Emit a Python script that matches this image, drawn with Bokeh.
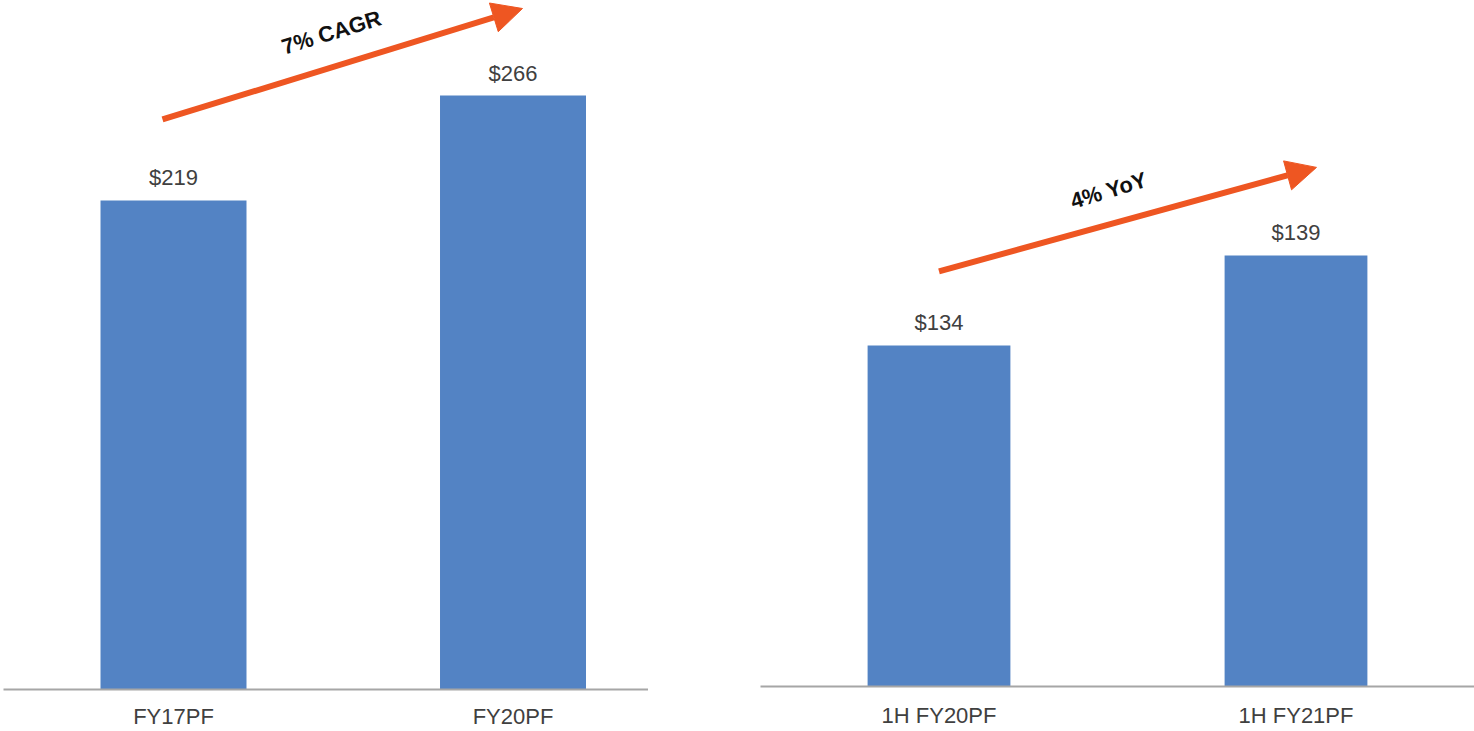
import math
from bokeh.plotting import figure
from bokeh.layouts import row
from bokeh.core.properties import value
from bokeh.models import (Range1d, FixedTicker, ColumnDataSource, LabelSet,
                          Arrow, NormalHead, Label)
from bokeh.embed import file_html
from bokeh.resources import INLINE

# ---------------- data ----------------
left_categories = ["FY17PF", "FY20PF"]
left_values = [219, 266]
left_labels = ["$219", "$266"]
left_growth = "7% CAGR"

right_categories = ["1H FY20PF", "1H FY21PF"]
right_values = [134, 139]
right_labels = ["$134", "$139"]
right_growth = "4% YoY"

# ---------------- style ----------------
BAR = "#5383C4"
ORANGE = "#EE5622"
AXIS = "#A6A6A6"
TXT = "#404040"
FONT = "Liberation Sans"


def make_panel(cats, vals, labels, growth, *, frame_w, frame_h, x_start, x_end,
               y_start, y_end, bar_w, border_left, standoff, arrow_px, text_px,
               text_angle_deg):
    p = figure(frame_width=frame_w, frame_height=frame_h,
               x_range=Range1d(x_start, x_end), y_range=Range1d(y_start, y_end),
               output_backend="svg", toolbar_location=None, y_axis_location=None,
               min_border_left=border_left, min_border_right=0,
               min_border_top=0, min_border_bottom=0)
    p.background_fill_color = "white"
    p.border_fill_color = "white"
    p.outline_line_color = None
    p.grid.visible = False

    kx = frame_w / (x_end - x_start)
    ky = frame_h / (y_end - y_start)
    xs = list(range(len(cats)))
    src = ColumnDataSource(dict(x=xs, top=vals, label=labels))
    p.vbar(x="x", top="top", bottom=y_start, width=bar_w, source=src,
           fill_color=BAR, line_color=None)
    p.add_layout(LabelSet(x="x", y="top", text="label", source=src, y_offset=15,
                          text_align="center", text_baseline="alphabetic",
                          text_font_size=value("22px"), text_color=TXT,
                          text_font=value(FONT)))

    (sdx, sdy), (edx, edy) = arrow_px
    x0 = xs[0] + sdx / kx
    y0 = vals[0] + sdy / ky
    x1 = xs[-1] + edx / kx
    y1 = vals[-1] + edy / ky
    p.add_layout(Arrow(x_start=x0, y_start=y0, x_end=x1, y_end=y1,
                       line_color=ORANGE, line_width=6,
                       end=NormalHead(size=30, fill_color=ORANGE,
                                      line_color=ORANGE, line_width=1)))
    tx = (x0 + x1) / 2 + text_px[0] / kx
    ty = (y0 + y1) / 2 + text_px[1] / ky
    p.add_layout(Label(x=tx, y=ty, text=growth,
                       angle=math.radians(text_angle_deg),
                       text_align="center", text_baseline="middle",
                       text_font_style="bold", text_font_size="22px",
                       text_color="#111111", text_font=FONT))

    ax = p.xaxis[0]
    ax.ticker = FixedTicker(ticks=xs)
    ax.major_label_overrides = {i: c for i, c in zip(xs, cats)}
    ax.major_tick_line_color = None
    ax.minor_tick_line_color = None
    ax.major_tick_out = 0
    ax.major_tick_in = 0
    ax.axis_line_color = AXIS
    ax.axis_line_width = 2
    ax.major_label_standoff = standoff
    ax.major_label_text_font_size = "22px"
    ax.major_label_text_color = TXT
    ax.major_label_text_font = FONT
    return p


left = make_panel(left_categories, left_values, left_labels, left_growth,
                  frame_w=645, frame_h=689, x_start=-0.50075, x_end=1.3991,
                  y_start=0, y_end=308.55, bar_w=0.43, border_left=3, standoff=14,
                  arrow_px=((-11, 81), (9.5, 87)), text_px=(-11, 31.5),
                  text_angle_deg=17)

right = make_panel(right_categories, right_values, right_labels, right_growth,
                   frame_w=714, frame_h=686, x_start=-0.5, x_end=1.5,
                   y_start=115.05, y_end=153.16, bar_w=0.40, border_left=112,
                   standoff=16, arrow_px=((0, 74), (20.5, 88)), text_px=(-19, 29),
                   text_angle_deg=17)

layout = row(left, right)
open("out.html", "w").write(file_html(layout, INLINE))
